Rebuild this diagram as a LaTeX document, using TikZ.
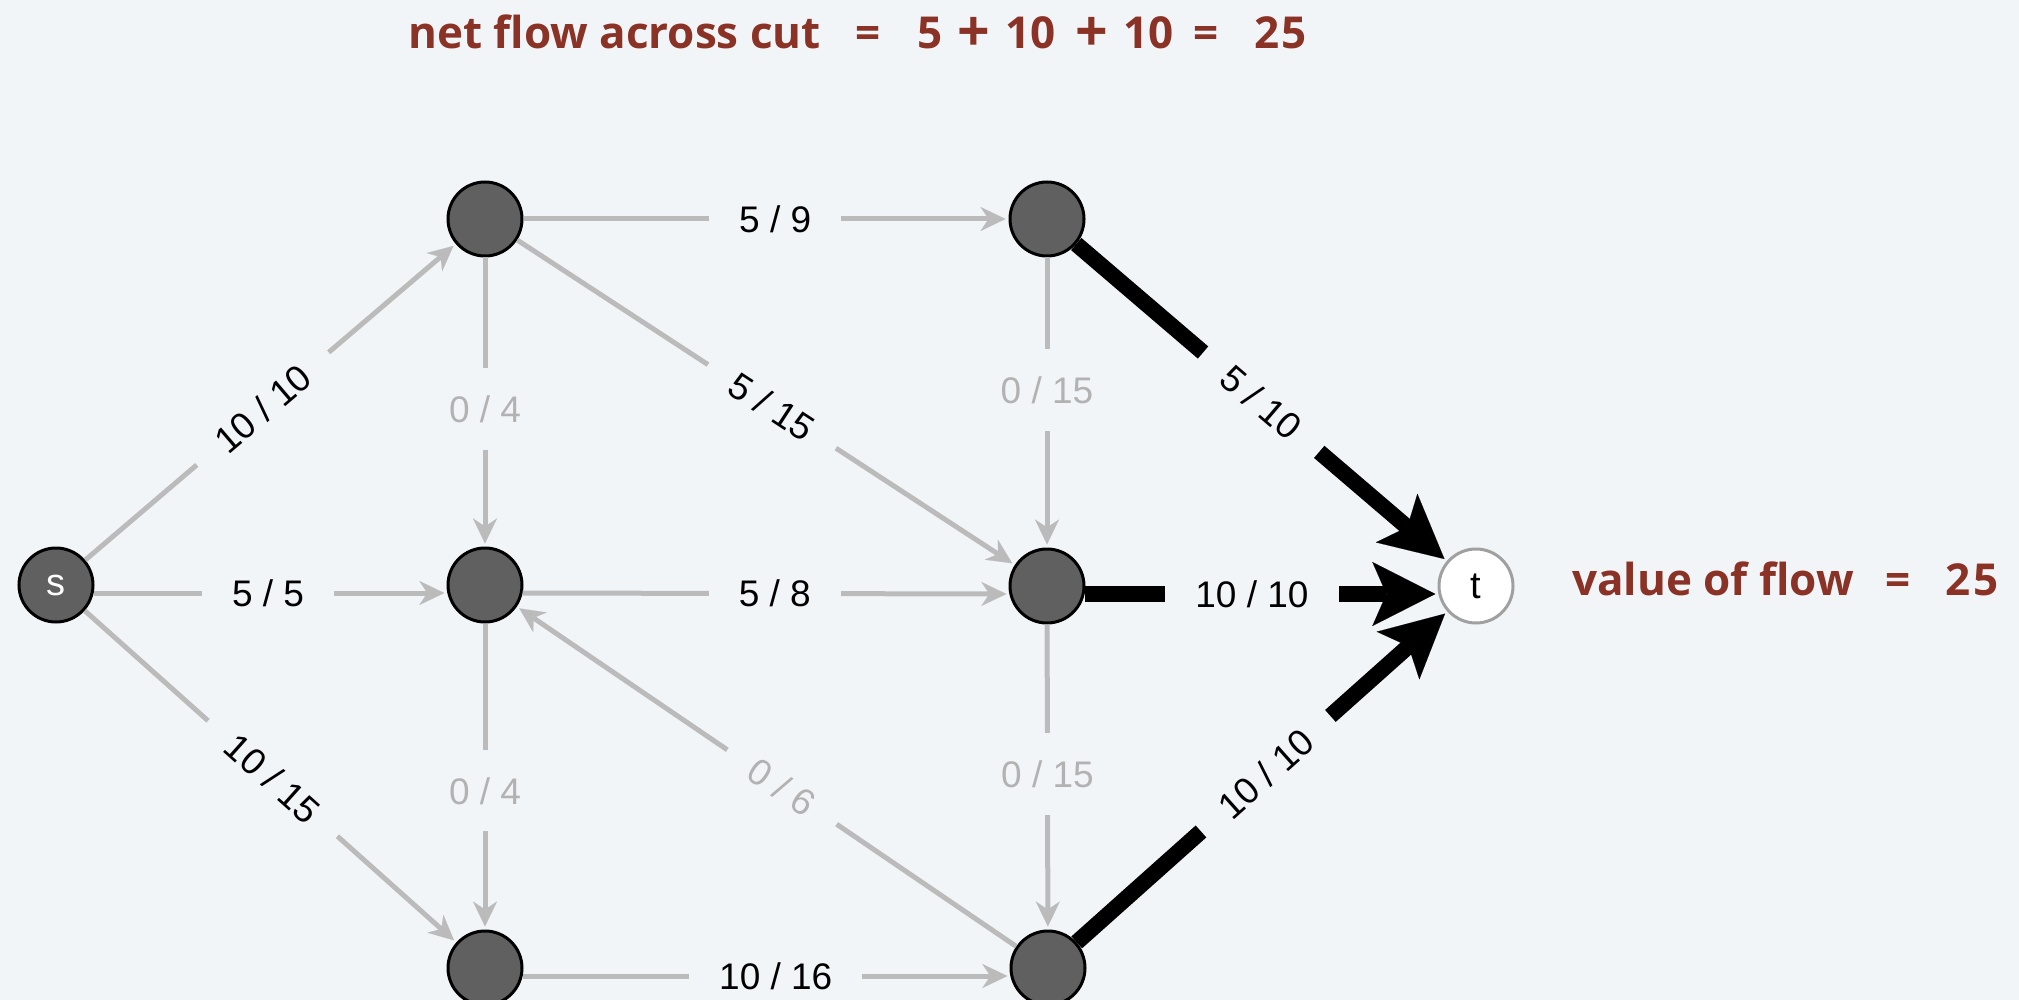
\documentclass[tikz,border=0pt]{standalone}
\usepackage{fontspec}
\setmainfont{Liberation Sans}
\newfontfamily\titlefont{Open Sans}
\usetikzlibrary{arrows.meta}
\definecolor{bg}{RGB}{242,245,248}
\definecolor{edgegray}{RGB}{187,187,187}
\definecolor{labgray}{RGB}{178,178,178}
\definecolor{nodegray}{RGB}{96,96,96}
\definecolor{tgray}{RGB}{160,160,160}
\definecolor{titlered}{RGB}{139,50,38}
\newcommand{\bigplus}{\raisebox{-3pt}{\scalebox{1.3}{+}}}
\begin{document}
\begin{tikzpicture}[x=1pt,y=-1pt,
  vtx/.style={circle, draw=black, line width=3pt, fill=nodegray, minimum size=74pt,
    inner sep=0pt, text=white, font=\fontsize{38}{40}\selectfont},
  tvtx/.style={vtx, draw=tgray, fill=white, text=black},
  gedge/.style={draw=edgegray, line width=5pt, shorten >=3pt,
    -{Stealth[length=25pt,width=24pt,inset=8pt,line width=0.1pt]}},
  bedge/.style={draw=black, line width=16pt, shorten >=3pt,
    -{Stealth[length=63pt,width=64pt,inset=14pt,line width=0.1pt]}},
  lab/.style={fill=bg, inner xsep=30pt, inner ysep=4pt,
    font=\fontsize{37}{39}\selectfont, text=black},
  glab/.style={lab, text=labgray},
  vlab/.style={fill=bg, inner xsep=2pt, inner ysep=27pt,
    font=\fontsize{37}{39}\selectfont, text=labgray},
  ttl/.style={anchor=base west, inner sep=0pt, text=titlered,
    font=\titlefont\bfseries\fontsize{44}{48}\selectfont},
]
\fill[bg] (0,0) rectangle (2019,1000);
\useasboundingbox (0,0) rectangle (2019,1000);

% titles
\node[ttl] (title) at (408,49) {\rlap{net flow across cut}\hspace{447pt}\rlap{=}\hspace{62pt}\rlap{5}\hspace{40.5pt}\rlap{\bigplus}\hspace{47.5pt}\rlap{10}\hspace{70.5pt}\rlap{\bigplus}\hspace{47.5pt}\rlap{10}\hspace{70pt}\rlap{=}\hspace{61pt}2\hspace{2pt}5};
\node[ttl] (value) at (1572,595) {\rlap{value of flow}\hspace{313pt}\rlap{=}\hspace{60pt}2\hspace{3pt}5};

% vertices
\node[vtx] (s) at (56,585) {s};
\node[vtx] (A) at (485,219) {};
\node[vtx] (B) at (485,585) {};
\node[vtx] (C) at (485,968) {};
\node[vtx] (D) at (1047,219) {};
\node[vtx] (E) at (1047,586) {};
\node[vtx] (F) at (1048,968) {};
\node[tvtx] (t) at (1476,586) {t};

% gray edges
\draw[gedge] (s) -- node[lab, sloped, pos=.479] (l1) {10 / 10} (A);
\draw[gedge] (s.-12) -- node[lab, pos=.493] (l2) {5 / 5} (B.192);
\draw[gedge] (s) -- node[lab, sloped, pos=.506] (l3) {10 / 15} (C);
\draw[gedge] (A) -- node[lab, pos=.519] (l4) {5 / 9} (D);
\draw[gedge] (A) -- node[vlab, pos=.524] (l5) {0 / 4} (B);
\draw[gedge] (A) -- node[lab, sloped, pos=.512] (l6) {5 / 15} (E);
\draw[gedge] (B.-12) -- node[lab, pos=.518] (l7) {5 / 8} (E.192);
\draw[gedge] (D) -- node[vlab, pos=.457] (l8) {0 / 15} (E);
\draw[gedge] (B) -- node[vlab, pos=.547] (l9) {0 / 4} (C);
\draw[gedge] (F) -- node[glab, sloped, pos=.469] (l10) {0 / 6} (B);
\draw[gedge] (E) -- node[vlab, pos=.49] (l11) {0 / 15} (F);
\draw[gedge] (C.-12) -- node[lab, pos=.519] (l12) {10 / 16} (F.192);

% black edges
\draw[bedge] (D) -- node[lab, sloped, pos=.499] (l13) {5 / 10} (t);
\draw[bedge] (E.-12) -- node[lab, pos=.473] (l14) {10 / 10} (t.192);
\draw[bedge] (F) -- node[lab, sloped, pos=.51] (l15) {10 / 10} (t);
\end{tikzpicture}
\end{document}
